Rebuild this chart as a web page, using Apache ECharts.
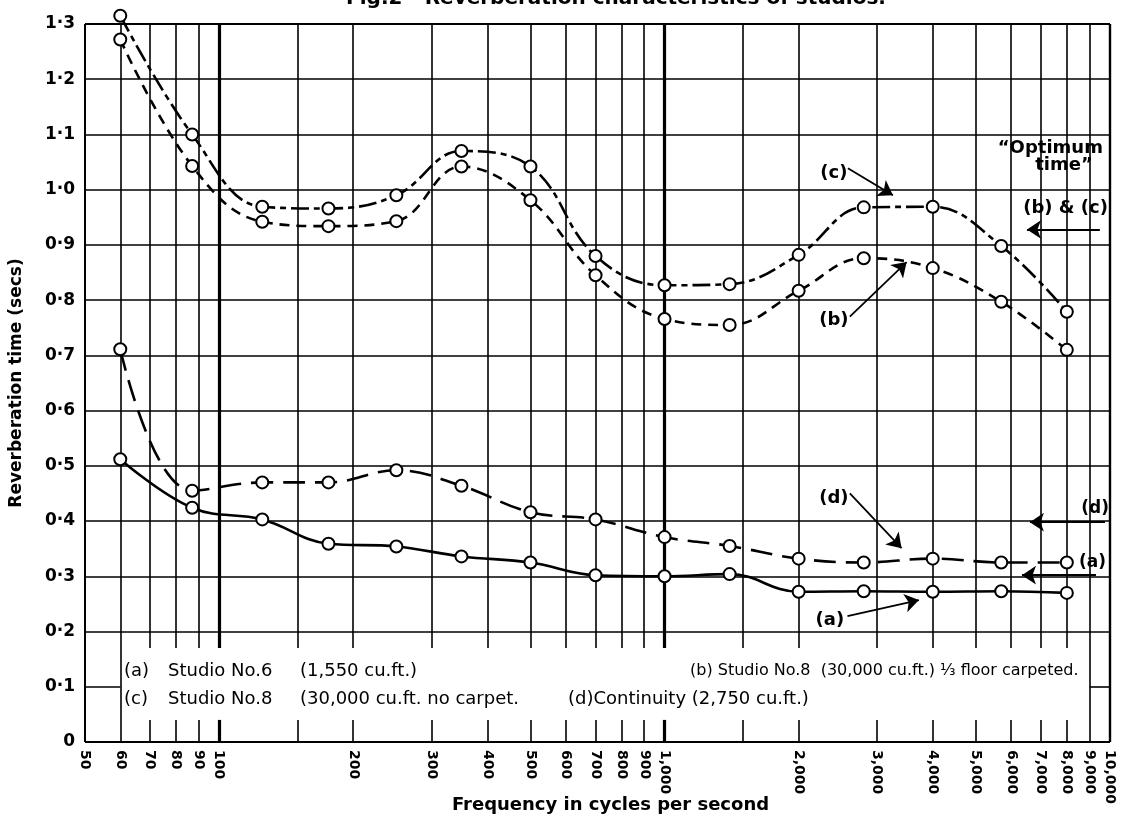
<!DOCTYPE html>
<html>
<head>
<meta charset="utf-8">
<script src="https://cdn.jsdelivr.net/npm/echarts@6/dist/echarts.min.js"></script>
<style>
  html, body { margin: 0; background: #fff; }
  #chart { width: 1128px; height: 815px; }
</style>
</head>
<body>
<div id="chart"></div>
<script>
// measurement frequencies (c/s), same for all four studios
var freqs = [60, 87, 125, 176, 250, 350, 500, 700, 1000, 1400, 2000, 2800, 4000, 5700, 8000];

// reverberation time (secs)
var studioA = [0.512, 0.424, 0.403, 0.359, 0.354, 0.336, 0.325, 0.302, 0.300, 0.304, 0.272, 0.273, 0.272, 0.273, 0.270];
var studioB = [1.272, 1.043, 0.942, 0.934, 0.943, 1.042, 0.981, 0.845, 0.766, 0.755, 0.817, 0.876, 0.858, 0.797, 0.710];
var studioC = [1.315, 1.100, 0.969, 0.966, 0.990, 1.070, 1.042, 0.880, 0.827, 0.829, 0.882, 0.968, 0.969, 0.898, 0.779];
var studioD = [0.711, 0.455, 0.470, 0.470, 0.492, 0.464, 0.416, 0.403, 0.371, 0.355, 0.332, 0.325, 0.332, 0.325, 0.325];

// "optimum time" marks on the right edge
var optimumBC = 0.928;
var optimumD = 0.398;
var optimumA = 0.302;

// axis ticks
var xLabels = [50, 60, 70, 80, 90, 100, 200, 300, 400, 500, 600, 700, 800, 900,
  1000, 2000, 3000, 4000, 5000, 6000, 7000, 8000, 9000, 10000];
var xGrid = [60, 70, 80, 90, 100, 150, 200, 300, 400, 500, 600, 700, 800, 900,
  1000, 1500, 2000, 3000, 4000, 5000, 6000, 7000, 8000, 9000];
var yGrid = [0.2, 0.3, 0.4, 0.5, 0.6, 0.7, 0.8, 0.9, 1.0, 1.1, 1.2];

var FONT = 'DejaVu Sans';

function zip(ys) {
  return freqs.map(function (f, i) { return [f, ys[i]]; });
}

function seg(x1, y1, x2, y2, w) {
  return [{ coord: [x1, y1], lineStyle: { width: w } }, { coord: [x2, y2] }];
}

// graph-paper grid; the key box (60..9000, below 0.2) is left clear
var grid = [];
xGrid.forEach(function (f) {
  var w = (f === 100 || f === 1000) ? 3.2 : 1.6;
  if (f === 60 || f === 9000) {
    grid.push(seg(f, 0, f, 1.3, w));
  } else {
    grid.push(seg(f, 0.17, f, 1.3, w));
    grid.push(seg(f, 0, f, 0.04, w));
  }
});
yGrid.forEach(function (v) { grid.push(seg(50, v, 10000, v, 1.6)); });
grid.push(seg(50, 0.1, 60, 0.1, 1.6));
grid.push(seg(9000, 0.1, 10000, 0.1, 1.6));
// frame
grid.push(seg(50, 0, 50, 1.3, 2));
grid.push(seg(10000, 0, 10000, 1.3, 2.4));
grid.push(seg(50, 0, 10000, 0, 2));
grid.push(seg(50, 1.3, 10000, 1.3, 2));

// labelled arrows
var arrows = [
  [{ coord: [2580, 1.039] }, { coord: [3256, 0.990] }],
  [{ coord: [2606, 0.770] }, { coord: [3495, 0.869] }],
  [{ coord: [2606, 0.450] }, { coord: [3404, 0.351] }],
  [{ coord: [2574, 0.228] }, { coord: [3724, 0.257] }],
  [{ coord: [9490, optimumBC] }, { coord: [6510, optimumBC] }],
  [{ coord: [9745, optimumD] }, { coord: [6610, optimumD] }],
  [{ coord: [9300, optimumA] }, { coord: [6345, optimumA] }]
];

var notes = [
  { name: '(c)', coord: [2400, 1.030], label: { align: 'center' } },
  { name: '(b)', coord: [2400, 0.763], label: { align: 'center' } },
  { name: '(d)', coord: [2400, 0.441], label: { align: 'center' } },
  { name: '(a)', coord: [2350, 0.221], label: { align: 'center' } },
  { name: '\u201cOptimum', coord: [9640, 1.075], label: { align: 'right' } },
  { name: 'time\u201d', coord: [9150, 1.044], label: { align: 'right' } },
  { name: '(b) & (c)', coord: [9890, 0.966], label: { align: 'right' } },
  { name: '(d)', coord: [9950, 0.423], label: { align: 'right', fontSize: 17 } },
  { name: '(a)', coord: [9800, 0.325], label: { align: 'right', fontSize: 17 } }
];

function curve(name, ys, dash) {
  return {
    name: name,
    type: 'line',
    data: zip(ys),
    smooth: 0.4,
    clip: false,
    z: 10,
    symbol: 'emptyCircle',
    symbolSize: 12,
    itemStyle: { color: '#000', borderWidth: 2.2 },
    lineStyle: { color: '#000', width: 2.6, type: dash },
    silent: true
  };
}

function keyText(x, y, text, size, align) {
  return {
    type: 'text', x: x, y: y,
    style: { text: text, font: (size || 18) + 'px "DejaVu Sans"', fill: '#000', align: align || 'left' }
  };
}

var chart = echarts.init(document.getElementById('chart'));
var option = {
  animation: false,
  backgroundColor: '#fff',
  grid: { left: 85, right: 18, top: 24, bottom: 73, containLabel: false, outerBoundsMode: 'none' },
  xAxis: {
    type: 'log',
    logBase: 10,
    min: 50,
    max: 10000,
    name: 'Frequency in cycles per second',
    nameLocation: 'middle',
    nameGap: 54,
    nameMoveOverlap: false,
    nameTextStyle: { fontFamily: FONT, fontWeight: 'bold', fontSize: 18, color: '#000', padding: [0, 0, 0, 26] },
    axisLine: { show: false },
    axisTick: { show: false },
    splitLine: { show: false },
    axisLabel: {
      customValues: xLabels,
      rotate: -90,
      margin: 8,
      fontFamily: FONT,
      fontWeight: 'bold',
      fontSize: 14,
      color: '#000',
      formatter: function (v) {
        return v >= 1000 ? Math.round(v).toLocaleString('en-US') : String(Math.round(v));
      }
    }
  },
  yAxis: {
    type: 'value',
    min: 0,
    max: 1.3,
    interval: 0.1,
    name: 'Reverberation time (secs)',
    nameLocation: 'middle',
    nameGap: 60,
    nameRotate: 90,
    nameMoveOverlap: false,
    nameTextStyle: { fontFamily: FONT, fontWeight: 'bold', fontSize: 17, color: '#000' },
    axisLine: { show: false },
    axisTick: { show: false },
    splitLine: { show: false },
    axisLabel: {
      margin: 10,
      fontFamily: FONT,
      fontWeight: 'bold',
      fontSize: 17,
      color: '#000',
      formatter: function (v) {
        return v === 0 ? '0' : v.toFixed(1).replace('.', '\u00b7');
      }
    }
  },
  graphic: [
    { type: 'text', x: 616, y: -11, style: { text: 'Fig.2 - Reverberation characteristics of studios.', font: 'bold 20px "DejaVu Sans"', align: 'center', fill: '#000' } },
    keyText(124, 662, '(a)'),
    keyText(168, 662, 'Studio No.6'),
    keyText(300, 662, '(1,550 cu.ft.)'),
    keyText(124, 690, '(c)'),
    keyText(168, 690, 'Studio No.8'),
    keyText(300, 690, '(30,000 cu.ft. no carpet.'),
    keyText(568, 690, '(d)Continuity (2,750 cu.ft.)', 18),
    keyText(690, 663, '(b) Studio No.8  (30,000 cu.ft.) \u2153 floor carpeted.', 16)
  ],
  series: [
    {
      name: 'paper',
      type: 'line',
      data: [],
      silent: true,
      markLine: {
        silent: true,
        z: 1,
        symbol: ['none', 'none'],
        label: { show: false },
        lineStyle: { color: '#000', type: 'solid', width: 1.6 },
        data: grid
      }
    },
    {
      name: 'notes',
      type: 'line',
      data: [],
      silent: true,
      markLine: {
        silent: true,
        z: 6,
        symbol: ['none', 'arrow'],
        symbolSize: 14,
        label: { show: false },
        lineStyle: { color: '#000', type: 'solid', width: 1.8 },
        data: arrows
      },
      markPoint: {
        silent: true,
        symbol: 'circle',
        symbolSize: 1,
        itemStyle: { color: 'rgba(0,0,0,0)' },
        label: {
          show: true,
          position: 'inside',
          formatter: '{b}',
          color: '#000',
          fontFamily: FONT,
          fontWeight: 'bold',
          fontSize: 18
        },
        data: notes
      }
    },
    curve('(a) Studio No.6', studioA, 'solid'),
    curve('(b) Studio No.8 1/3 carpeted', studioB, [10, 7]),
    curve('(c) Studio No.8 no carpet', studioC, [18, 5, 6, 5]),
    curve('(d) Continuity', studioD, [22, 10])
  ]
};
chart.setOption(option);
</script>
</body>
</html>
